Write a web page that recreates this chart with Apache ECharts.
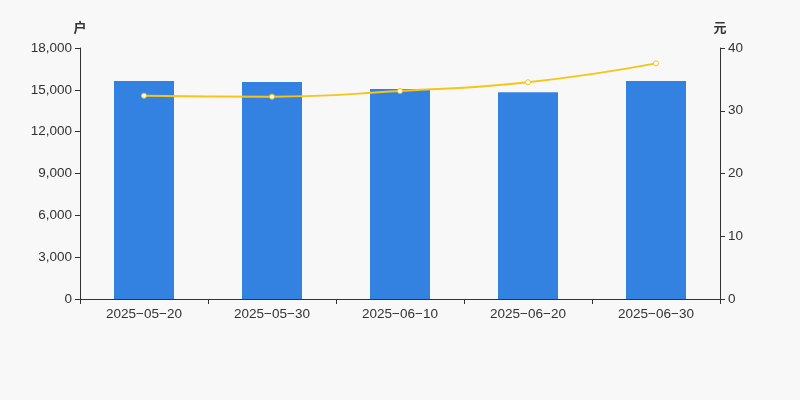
<!DOCTYPE html>
<html><head><meta charset="utf-8">
<script src="https://cdn.jsdelivr.net/npm/echarts@6/dist/echarts.min.js"></script>
<style>html,body{margin:0;padding:0;background:#f8f8f8}#c{width:800px;height:400px}</style>
</head><body><div id="c"></div>
<script>
const categories = ['2025-05-20','2025-05-30','2025-06-10','2025-06-20','2025-06-30'];
const holders = [15630, 15560, 15060, 14820, 15630];
const avgPrice = [32.4, 32.25, 33.15, 34.55, 37.55];
const leftTicks = {min:0, max:18000, interval:3000};
const rightTicks = {min:0, max:40, interval:10};

const chart = echarts.init(document.getElementById('c'));
const axisLine = {show:true, lineStyle:{color:'#333'}};
const labelStyle = {color:'#333', fontSize:13.5, fontFamily:'Arial, Liberation Sans, sans-serif'};
const nameStyle = {color:'#333', fontSize:13, fontWeight:'bold', align:'center', fontFamily:'Noto Sans CJK SC, sans-serif'};
chart.setOption({
  backgroundColor:'#f8f8f8',
  animation:false,
  grid:{left:80, right:80, top:48, bottom:101},
  xAxis:{type:'category', data:categories, boundaryGap:true,
    axisLine:axisLine, axisTick:{show:true, alignWithLabel:false, lineStyle:{color:'#333'}},
    axisLabel:Object.assign({}, labelStyle, {formatter:v=>v.replace(/-/g,'\u2212')})},
  yAxis:[
    {type:'value', name:'户', nameGap:14, min:leftTicks.min, max:leftTicks.max, interval:leftTicks.interval,
     nameTextStyle:nameStyle,
     axisLine:axisLine, axisTick:{show:true, lineStyle:{color:'#333'}},
     axisLabel:Object.assign({}, labelStyle, {formatter:v=>v.toLocaleString('en-US')}),
     splitLine:{show:false}},
    {type:'value', name:'元', nameGap:14, min:rightTicks.min, max:rightTicks.max, interval:rightTicks.interval,
     nameTextStyle:nameStyle,
     axisLine:axisLine, axisTick:{show:true, lineStyle:{color:'#333'}},
     axisLabel:labelStyle, splitLine:{show:false}}
  ],
  series:[
    {type:'bar', data:holders, yAxisIndex:0, barWidth:60, itemStyle:{color:'#3382e2'}},
    {type:'line', data:avgPrice, yAxisIndex:1, smooth:true, symbol:'circle', symbolSize:5,
     lineStyle:{color:'#f5c518', width:2},
     itemStyle:{color:'#fff', borderColor:'#f5c518', borderWidth:1}}
  ]
});
</script></body></html>
